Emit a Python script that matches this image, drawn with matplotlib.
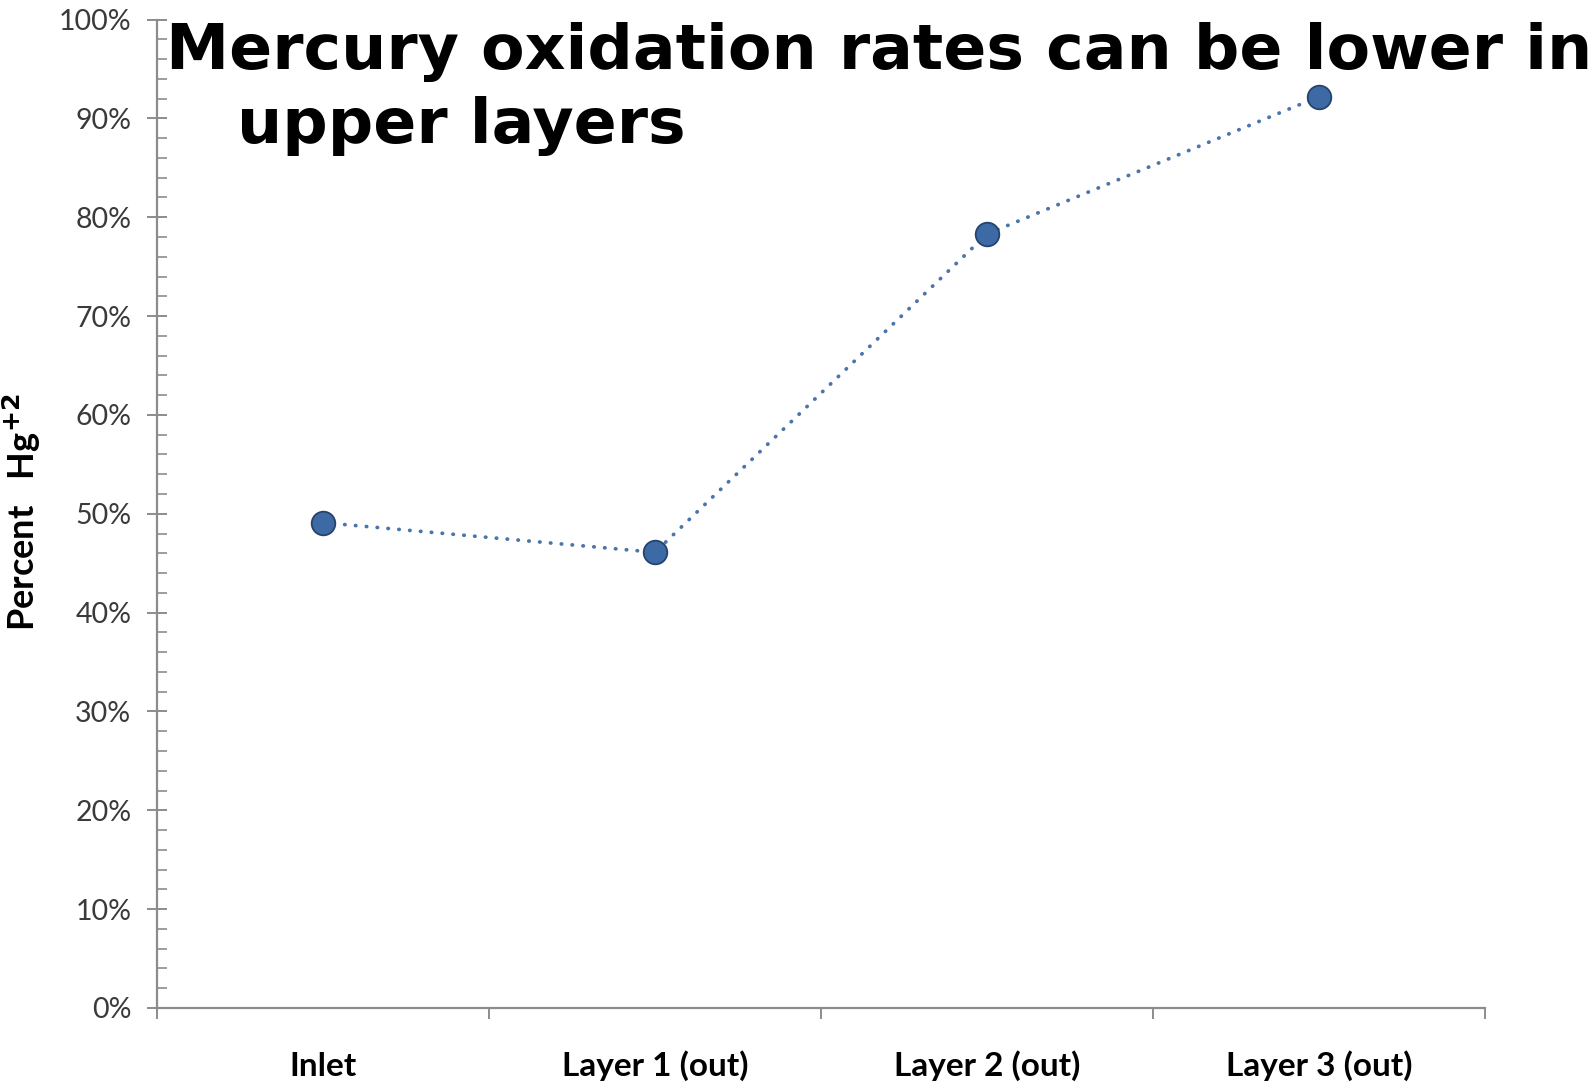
import numpy as np
import matplotlib.pyplot as plt
from matplotlib.ticker import MultipleLocator, FixedLocator, PercentFormatter

categories = ['Inlet', 'Layer 1 (out)', 'Layer 2 (out)', 'Layer 3 (out)']
hg_percent = [49.1, 46.1, 78.3, 92.2]
y_ticks = np.arange(0, 101, 10)

W, H = 1596, 1084
fig = plt.figure(figsize=(W / 100, H / 100), dpi=100)
ax = fig.add_axes([157 / W, 1 - 1008 / H, (1485 - 157) / W, (1008 - 19.5) / H])

x = np.arange(len(categories)) + 0.5
ax.plot(x, hg_percent, color='#4a74aa', lw=2.7, linestyle=(0, (0.1, 2.8)),
        dash_capstyle='round', zorder=2)
ax.plot(x, hg_percent, 'o', ms=17, mfc='#3d6aa5', mec='#24446e', mew=1.3, zorder=3)

ax.set_xlim(0, len(categories))
ax.set_ylim(0, 100)

# spines
for s in ['top', 'right']:
    ax.spines[s].set_visible(False)
for s in ['left', 'bottom']:
    ax.spines[s].set_color('#8c8c8c')
    ax.spines[s].set_linewidth(1.6)

# y axis
ax.yaxis.set_major_locator(FixedLocator(y_ticks))
ax.yaxis.set_minor_locator(MultipleLocator(2))
ax.yaxis.set_major_formatter(PercentFormatter(decimals=0))
ax.tick_params(axis='y', which='major', direction='inout', length=15, width=1.4,
               color='#8c8c8c', pad=11, labelsize=20.5, labelcolor='#3a3a3a')
ax.tick_params(axis='y', which='minor', direction='in', length=7, width=1.2,
               color='#8c8c8c')
for t in ax.get_yticklabels():
    t.set_fontfamily('Lato')

# x axis: boundary ticks, labels centered in categories
ax.xaxis.set_major_locator(FixedLocator(np.arange(len(categories) + 1)))
ax.xaxis.set_major_formatter(plt.NullFormatter())
ax.xaxis.set_minor_locator(FixedLocator(x))
ax.set_xticklabels(categories, minor=True)
ax.tick_params(axis='x', which='minor', length=0, pad=49, labelsize=24)
ax.tick_params(axis='x', which='major', direction='out', length=8, width=1.4,
               color='#8c8c8c')
for t in ax.get_xticklabels(minor=True):
    t.set_fontfamily('Lato')
    t.set_fontweight('bold')
    t.set_verticalalignment('baseline')

ax.set_ylabel(r'Percent   Hg$^{\mathbf{+2}}$', fontsize=26, fontweight='bold',
              fontfamily='Lato')
ax.yaxis.set_label_coords(-114 / (1485 - 157), (1008 - 512) / (1008 - 19.5))

# title
fig.text(166 / W, 1 - 69 / H, 'Mercury oxidation rates can be lower in',
         fontsize=45.6, fontweight='bold', fontfamily='DejaVu Sans', va='baseline')
fig.text(237 / W, 1 - 143 / H, 'upper layers',
         fontsize=45.6, fontweight='bold', fontfamily='DejaVu Sans', va='baseline')

fig.savefig('out.png', dpi=100)
